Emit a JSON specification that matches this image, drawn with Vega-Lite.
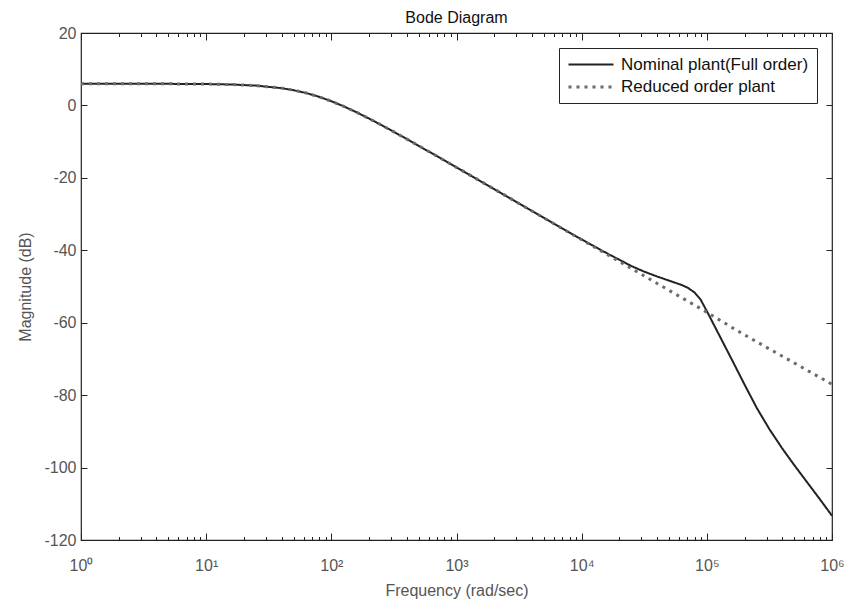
{
  "$schema": "https://vega.github.io/schema/vega-lite/v6.json",
  "width": 751,
  "height": 507,
  "autosize": {"type": "none"},
  "padding": {"left": 81, "top": 33, "right": 14, "bottom": 60},
  "background": "white",
  "title": {"text": "Bode Diagram", "fontSize": 16, "font": "Liberation Sans", "fontWeight": "normal", "color": "#111", "offset": -1},
  "config": {
    "view": {"stroke": "#222", "strokeWidth": 1.2},
    "axis": {"domain": false, "grid": false, "tickColor": "#222", "tickWidth": 1, "labelFont": "Liberation Sans", "titleFont": "Liberation Sans", "labelFontSize": 16, "titleFontSize": 16, "labelColor": "#555", "titleColor": "#555", "titleFontWeight": "normal"}
  },
  "data": {"values": [
    {"series": "Nominal plant(Full order)", "f": 1, "dB": 6.0},
    {"series": "Nominal plant(Full order)", "f": 3.162, "dB": 5.99},
    {"series": "Nominal plant(Full order)", "f": 10, "dB": 5.91},
    {"series": "Nominal plant(Full order)", "f": 15.85, "dB": 5.78},
    {"series": "Nominal plant(Full order)", "f": 25.12, "dB": 5.47},
    {"series": "Nominal plant(Full order)", "f": 39.81, "dB": 4.78},
    {"series": "Nominal plant(Full order)", "f": 50.12, "dB": 4.2},
    {"series": "Nominal plant(Full order)", "f": 63.1, "dB": 3.42},
    {"series": "Nominal plant(Full order)", "f": 79.43, "dB": 2.41},
    {"series": "Nominal plant(Full order)", "f": 100, "dB": 1.17},
    {"series": "Nominal plant(Full order)", "f": 125.9, "dB": -0.27},
    {"series": "Nominal plant(Full order)", "f": 158.5, "dB": -1.87},
    {"series": "Nominal plant(Full order)", "f": 199.5, "dB": -3.6},
    {"series": "Nominal plant(Full order)", "f": 251.2, "dB": -5.42},
    {"series": "Nominal plant(Full order)", "f": 316.2, "dB": -7.3},
    {"series": "Nominal plant(Full order)", "f": 398.1, "dB": -9.23},
    {"series": "Nominal plant(Full order)", "f": 631, "dB": -13.15},
    {"series": "Nominal plant(Full order)", "f": 1000, "dB": -17.12},
    {"series": "Nominal plant(Full order)", "f": 1585, "dB": -21.1},
    {"series": "Nominal plant(Full order)", "f": 2512, "dB": -25.1},
    {"series": "Nominal plant(Full order)", "f": 3981, "dB": -29.1},
    {"series": "Nominal plant(Full order)", "f": 6310, "dB": -33.1},
    {"series": "Nominal plant(Full order)", "f": 10000, "dB": -37.0},
    {"series": "Nominal plant(Full order)", "f": 15849, "dB": -40.8},
    {"series": "Nominal plant(Full order)", "f": 25119, "dB": -44.4},
    {"series": "Nominal plant(Full order)", "f": 31623, "dB": -45.9},
    {"series": "Nominal plant(Full order)", "f": 39811, "dB": -47.2},
    {"series": "Nominal plant(Full order)", "f": 50119, "dB": -48.4},
    {"series": "Nominal plant(Full order)", "f": 56234, "dB": -49.0},
    {"series": "Nominal plant(Full order)", "f": 63096, "dB": -49.6},
    {"series": "Nominal plant(Full order)", "f": 70795, "dB": -50.4},
    {"series": "Nominal plant(Full order)", "f": 79433, "dB": -51.6},
    {"series": "Nominal plant(Full order)", "f": 89125, "dB": -53.6},
    {"series": "Nominal plant(Full order)", "f": 100000, "dB": -56.8},
    {"series": "Nominal plant(Full order)", "f": 125893, "dB": -63.5},
    {"series": "Nominal plant(Full order)", "f": 158489, "dB": -70.2},
    {"series": "Nominal plant(Full order)", "f": 199526, "dB": -77.0},
    {"series": "Nominal plant(Full order)", "f": 251189, "dB": -83.6},
    {"series": "Nominal plant(Full order)", "f": 316228, "dB": -89.4},
    {"series": "Nominal plant(Full order)", "f": 398107, "dB": -94.6},
    {"series": "Nominal plant(Full order)", "f": 501187, "dB": -99.4},
    {"series": "Nominal plant(Full order)", "f": 630957, "dB": -104.0},
    {"series": "Nominal plant(Full order)", "f": 794328, "dB": -108.6},
    {"series": "Nominal plant(Full order)", "f": 1000000, "dB": -113.3},
    {"series": "Reduced order plant", "f": 1, "dB": 6.0},
    {"series": "Reduced order plant", "f": 3.162, "dB": 5.99},
    {"series": "Reduced order plant", "f": 10, "dB": 5.91},
    {"series": "Reduced order plant", "f": 15.85, "dB": 5.78},
    {"series": "Reduced order plant", "f": 25.12, "dB": 5.47},
    {"series": "Reduced order plant", "f": 39.81, "dB": 4.78},
    {"series": "Reduced order plant", "f": 50.12, "dB": 4.2},
    {"series": "Reduced order plant", "f": 63.1, "dB": 3.42},
    {"series": "Reduced order plant", "f": 79.43, "dB": 2.41},
    {"series": "Reduced order plant", "f": 100, "dB": 1.17},
    {"series": "Reduced order plant", "f": 125.9, "dB": -0.27},
    {"series": "Reduced order plant", "f": 158.5, "dB": -1.87},
    {"series": "Reduced order plant", "f": 199.5, "dB": -3.6},
    {"series": "Reduced order plant", "f": 251.2, "dB": -5.42},
    {"series": "Reduced order plant", "f": 316.2, "dB": -7.3},
    {"series": "Reduced order plant", "f": 398.1, "dB": -9.23},
    {"series": "Reduced order plant", "f": 631, "dB": -13.15},
    {"series": "Reduced order plant", "f": 1000, "dB": -17.12},
    {"series": "Reduced order plant", "f": 1585, "dB": -21.1},
    {"series": "Reduced order plant", "f": 2512, "dB": -25.1},
    {"series": "Reduced order plant", "f": 3981, "dB": -29.1},
    {"series": "Reduced order plant", "f": 6310, "dB": -33.1},
    {"series": "Reduced order plant", "f": 10000, "dB": -37.1},
    {"series": "Reduced order plant", "f": 15849, "dB": -41.1},
    {"series": "Reduced order plant", "f": 25119, "dB": -45.1},
    {"series": "Reduced order plant", "f": 39811, "dB": -49.1},
    {"series": "Reduced order plant", "f": 63096, "dB": -53.1},
    {"series": "Reduced order plant", "f": 100000, "dB": -57.1},
    {"series": "Reduced order plant", "f": 158489, "dB": -61.3},
    {"series": "Reduced order plant", "f": 251189, "dB": -65.3},
    {"series": "Reduced order plant", "f": 398107, "dB": -69.2},
    {"series": "Reduced order plant", "f": 630957, "dB": -73.1},
    {"series": "Reduced order plant", "f": 1000000, "dB": -77.0}
  ]},
  "resolve": {"axis": {"x": "independent", "y": "independent"}},
  "layer": [
    {
      "mark": {"type": "line"},
      "encoding": {
        "x": {"field": "f", "type": "quantitative", "scale": {"type": "log", "domain": [1, 1000000], "nice": false},
              "axis": {"orient": "bottom", "values": [1, 10, 100, 1000, 10000, 100000, 1000000], "tickSize": -7, "labelPadding": 24, "labelFlush": false, "labelOverlap": false,
                       "labelExpr": "'10' + ['⁰','¹','²','³','⁴','⁵','⁶'][round(log(datum.value)/LN10)]",
                       "title": "Frequency (rad/sec)", "titlePadding": 9}},
        "y": {"field": "dB", "type": "quantitative", "scale": {"domain": [-120, 20], "nice": false, "zero": false},
              "axis": {"orient": "left", "values": [-120, -100, -80, -60, -40, -20, 0, 20], "tickSize": -6, "labelPadding": 11,
                       "labelExpr": "datum.value < 0 ? '-' + abs(datum.value) : '' + datum.value",
                       "title": "Magnitude (dB)", "titlePadding": 10}},
        "color": {"field": "series", "type": "nominal",
                  "scale": {"domain": ["Nominal plant(Full order)", "Reduced order plant"], "range": ["#222222", "#6a6a6a"]},
                  "legend": {"title": null, "orient": "top-right", "offset": 15, "strokeColor": "#222", "fillColor": "white", "padding": 8,
                             "symbolType": "M-1,0H5", "symbolSize": 225, "symbolStrokeWidth": 2.2, "labelOffset": 36, "rowPadding": 5, "labelLimit": 400,
                             "labelFont": "Liberation Sans", "labelFontSize": 17, "labelColor": "#111", "symbolStrokeColor": "#111"}},
        "strokeDash": {"field": "series", "type": "nominal",
                       "scale": {"domain": ["Nominal plant(Full order)", "Reduced order plant"], "range": [[1, 0], [3, 5]]},
                       "legend": {"title": null}},
        "strokeWidth": {"field": "series", "type": "nominal",
                        "scale": {"domain": ["Nominal plant(Full order)", "Reduced order plant"], "range": [2, 3]},
                        "legend": null}
      }
    },
    {
      "mark": {"type": "line", "opacity": 0},
      "encoding": {
        "x": {"field": "f", "type": "quantitative", "scale": {"type": "log", "domain": [1, 1000000], "nice": false},
              "axis": {"orient": "bottom", "labels": false, "title": null, "tickSize": -3.5,
                       "values": [2,3,4,5,6,7,8,9,20,30,40,50,60,70,80,90,200,300,400,500,600,700,800,900,2000,3000,4000,5000,6000,7000,8000,9000,20000,30000,40000,50000,60000,70000,80000,90000,200000,300000,400000,500000,600000,700000,800000,900000]}},
        "y": {"field": "dB", "type": "quantitative", "scale": {"domain": [-120, 20], "nice": false, "zero": false},
              "axis": {"orient": "right", "labels": false, "title": null, "tickSize": -6, "values": [-120, -100, -80, -60, -40, -20, 0, 20]}}
      }
    },
    {
      "mark": {"type": "line", "opacity": 0},
      "encoding": {
        "x": {"field": "f", "type": "quantitative", "scale": {"type": "log", "domain": [1, 1000000], "nice": false},
              "axis": {"orient": "top", "labels": false, "title": null, "tickSize": -7, "values": [1, 10, 100, 1000, 10000, 100000, 1000000]}},
        "y": {"field": "dB", "type": "quantitative", "scale": {"domain": [-120, 20], "nice": false, "zero": false}, "axis": null}
      }
    },
    {
      "mark": {"type": "line", "opacity": 0},
      "encoding": {
        "x": {"field": "f", "type": "quantitative", "scale": {"type": "log", "domain": [1, 1000000], "nice": false},
              "axis": {"orient": "top", "labels": false, "title": null, "tickSize": -3.5,
                       "values": [2,3,4,5,6,7,8,9,20,30,40,50,60,70,80,90,200,300,400,500,600,700,800,900,2000,3000,4000,5000,6000,7000,8000,9000,20000,30000,40000,50000,60000,70000,80000,90000,200000,300000,400000,500000,600000,700000,800000,900000]}},
        "y": {"field": "dB", "type": "quantitative", "scale": {"domain": [-120, 20], "nice": false, "zero": false}, "axis": null}
      }
    }
  ]
}
